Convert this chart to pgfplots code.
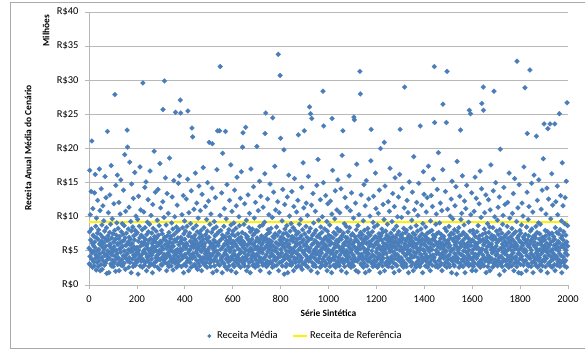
\documentclass[border=0pt]{standalone}
\usepackage{pgfplots}
\pgfplotsset{compat=1.18}
\usepackage{fontspec}
\setmainfont{Carlito}
\definecolor{xlblue}{RGB}{74,126,187}
\definecolor{gridgray}{RGB}{184,184,184}
\definecolor{framegray}{RGB}{170,170,170}
\begin{document}
\begin{tikzpicture}[x=1bp,y=1bp]
\useasboundingbox (0,0) rectangle (585,351);
\fill[white] (0,0) rectangle (585,351);
\draw[framegray, line width=0.8bp] (585,348.5) -- (10.5,348.5) -- (10.5,2.5) -- (585,2.5);
\begin{axis}[
  at={(89bp,66bp)}, anchor=south west,
  scale only axis, width=479bp, height=273bp,
  xmin=0, xmax=2000, ymin=0, ymax=40,
  clip=false,
  axis x line*=bottom, axis y line*=left,
  axis line style={draw=gridgray, line width=0.8bp},
  xtick={0,200,...,2000},
  xticklabels={0,200,400,600,800,1000,1200,1400,1600,1800,2000},
  ytick={0,5,...,40},
  yticklabels={R\$0,R\$5,R\$10,R\$15,R\$20,R\$25,R\$30,R\$35,R\$40},
  tick align=outside, major tick length=4bp,
  tick style={draw=gridgray, line width=0.8bp},
  ymajorgrids, grid style={draw=gridgray, line width=0.8bp},
  ticklabel style={font=\fontsize{10.5}{12}\selectfont},
  yticklabel style={xshift=-3bp},
  xticklabel style={yshift=-3bp},
  legend columns=2,
  legend style={draw=none, fill=none, at={(0.452,-0.187)}, anchor=center,
    font=\fontsize{10.5}{12}\selectfont, inner sep=0pt,
    /tikz/every even column/.append style={column sep=12bp}},
]
\addplot[only marks, mark=square*, mark size=1.75bp, color=xlblue,
  mark options={rotate=45, draw=xlblue, fill=xlblue, line width=0.2bp},
  legend image code/.code={\draw[mark repeat=2,mark phase=2,mark size=1.3bp] plot coordinates {(0bp,0bp)(5bp,0bp)(10bp,0bp)};}]
table[row sep=\\, header=false, x expr=\coordindex, y index=0] {
5.4\\3.1\\7.8\\16.8\\4.2\\10.3\\2.9\\6.6\\5.1\\13.7\\8.2\\3.8\\21.1\\4.7\\6.1\\2.6\\11.2\\7.3\\5.8\\3.4\\
4.9\\7.1\\2.8\\13.5\\6.3\\5.5\\16.2\\3.9\\8.6\\4.4\\2.2\\9.8\\6.9\\5.0\\3.3\\7.6\\12.4\\4.1\\6.7\\2.7\\
8.1\\5.2\\3.6\\17.0\\6.0\\4.6\\10.9\\2.1\\7.4\\5.9\\3.0\\14.1\\6.4\\4.0\\8.8\\2.3\\5.6\\7.0\\11.6\\4.8\\
3.5\\6.2\\9.4\\5.3\\2.9\\7.9\\4.3\\15.9\\6.8\\3.2\\5.7\\12.8\\4.5\\8.4\\1.7\\6.5\\3.7\\22.5\\5.0\\7.2\\
4.1\\10.6\\6.6\\1.8\\5.8\\3.9\\7.7\\13.2\\4.7\\6.0\\8.9\\3.1\\5.4\\17.5\\2.8\\6.9\\4.4\\9.7\\5.2\\3.6\\
7.5\\4.9\\2.7\\6.3\\11.9\\5.6\\3.3\\8.0\\27.9\\4.2\\6.7\\2.0\\14.6\\5.1\\7.3\\3.8\\9.1\\4.6\\16.1\\6.1\\
3.0\\5.9\\8.3\\4.0\\6.8\\12.1\\2.1\\7.1\\5.3\\3.4\\10.4\\6.2\\4.8\\15.4\\2.9\\7.8\\5.5\\3.7\\6.4\\9.0\\
5.7\\2.8\\7.4\\4.3\\13.9\\6.5\\3.2\\8.7\\5.0\\19.1\\4.1\\6.9\\2.3\\10.8\\5.8\\3.9\\7.6\\4.5\\6.0\\22.7\\
4.6\\20.2\\3.5\\6.3\\8.2\\5.2\\2.6\\11.4\\7.0\\4.0\\18.0\\5.9\\3.3\\6.7\\9.3\\4.9\\1.8\\7.9\\14.8\\5.4\\
6.1\\3.8\\5.0\\8.5\\2.7\\12.7\\4.4\\7.2\\5.6\\3.1\\6.6\\16.5\\4.2\\8.0\\2.9\\5.3\\10.1\\3.6\\7.5\\4.7\\
5.5\\7.7\\3.4\\9.6\\4.8\\1.6\\6.4\\13.0\\5.1\\3.9\\8.6\\4.3\\6.9\\17.3\\2.8\\5.7\\11.0\\4.0\\7.3\\3.5\\
6.2\\4.5\\8.1\\2.6\\5.9\\29.6\\3.7\\7.0\\4.9\\10.7\\6.3\\2.9\\5.2\\14.3\\8.4\\3.3\\6.7\\4.6\\15.1\\5.8\\
2.1\\7.4\\4.1\\6.0\\9.2\\3.6\\5.4\\12.5\\7.8\\4.2\\2.7\\6.5\\5.0\\8.9\\3.2\\16.7\\4.7\\6.8\\3.0\\10.2\\
5.3\\3.8\\7.6\\4.4\\6.1\\1.8\\11.8\\5.7\\8.3\\3.1\\6.6\\4.9\\19.6\\2.8\\7.1\\5.5\\3.4\\13.6\\6.3\\4.0\\
7.9\\5.0\\3.5\\6.9\\4.3\\9.5\\2.6\\5.8\\14.0\\3.9\\7.3\\6.0\\4.6\\8.7\\2.3\\5.1\\17.8\\3.7\\6.4\\11.3\\
4.8\\6.2\\3.0\\8.0\\5.6\\2.9\\7.5\\4.1\\12.2\\25.7\\5.3\\3.6\\6.7\\9.9\\4.5\\29.9\\7.0\\3.3\\5.9\\15.7\\
3.9\\6.5\\8.8\\4.2\\2.1\\5.4\\13.4\\7.2\\3.1\\6.0\\4.7\\10.5\\5.8\\2.7\\7.7\\4.4\\18.6\\6.3\\3.5\\5.1\\
6.8\\4.0\\7.1\\2.8\\5.5\\9.1\\3.4\\12.9\\6.1\\4.9\\8.2\\2.2\\5.7\\3.8\\15.3\\7.4\\4.3\\6.6\\10.0\\3.2\\
5.0\\25.3\\3.7\\6.4\\4.6\\8.5\\2.6\\7.8\\11.7\\5.2\\3.3\\6.9\\4.1\\14.9\\2.9\\5.9\\8.1\\4.8\\16.0\\6.2\\
3.6\\27.1\\5.3\\25.2\\7.0\\4.4\\2.7\\6.6\\10.3\\5.1\\3.9\\8.4\\4.2\\6.0\\13.1\\1.8\\7.5\\5.6\\3.0\\9.4\\
6.7\\4.5\\3.1\\7.9\\5.4\\2.8\\12.6\\6.1\\4.0\\8.6\\3.5\\5.8\\15.5\\25.5\\4.7\\7.2\\2.1\\10.6\\5.0\\3.8\\
7.6\\5.2\\3.3\\6.4\\9.0\\4.3\\2.6\\13.8\\5.7\\7.0\\23.0\\3.9\\6.2\\21.7\\4.6\\8.3\\2.9\\5.5\\11.1\\6.8\\
4.1\\3.0\\7.3\\5.9\\16.4\\2.7\\6.5\\4.8\\8.7\\3.6\\12.0\\5.3\\7.8\\2.3\\6.0\\4.4\\9.8\\3.2\\5.6\\14.5\\
6.9\\4.2\\2.8\\7.5\\5.1\\10.9\\3.7\\6.3\\8.0\\4.9\\2.1\\5.8\\13.3\\7.1\\3.4\\6.6\\4.0\\17.2\\5.4\\3.1\\
8.4\\5.7\\3.9\\6.1\\2.9\\4.6\\11.5\\7.4\\5.0\\3.3\\6.8\\9.6\\4.3\\2.6\\7.9\\15.0\\5.2\\3.8\\6.4\\12.3\\
4.7\\7.0\\20.9\\5.5\\3.2\\8.9\\4.1\\6.2\\2.7\\10.4\\5.9\\3.6\\7.7\\4.4\\14.2\\20.7\\6.0\\1.8\\5.3\\8.2\\
3.5\\6.6\\4.8\\9.3\\2.8\\5.6\\7.2\\3.9\\12.8\\6.3\\4.2\\8.5\\5.0\\2.1\\16.9\\7.5\\3.4\\22.6\\6.1\\4.6\\
5.8\\3.0\\7.8\\4.5\\6.4\\22.6\\2.9\\10.2\\32.0\\5.2\\8.0\\3.7\\6.7\\4.0\\13.5\\5.4\\1.8\\7.3\\19.3\\3.3\\
6.9\\4.3\\5.7\\8.6\\3.1\\11.2\\6.0\\4.7\\2.7\\7.1\\22.5\\5.1\\3.8\\9.7\\6.5\\4.4\\14.7\\2.3\\5.9\\7.6\\
4.0\\6.3\\3.4\\5.5\\8.1\\2.8\\7.0\\12.4\\4.9\\6.7\\3.6\\5.3\\17.6\\8.8\\2.1\\6.1\\4.2\\10.8\\7.4\\3.9\\
5.6\\7.9\\3.0\\6.4\\4.6\\9.1\\2.7\\5.0\\13.9\\7.2\\3.5\\6.0\\4.3\\8.3\\1.8\\11.6\\5.7\\3.8\\15.8\\6.6\\
4.1\\3.2\\7.5\\5.3\\2.9\\6.8\\10.0\\4.5\\8.7\\3.7\\6.2\\5.1\\12.7\\2.6\\7.0\\4.8\\16.6\\5.9\\3.4\\6.5\\
7.7\\20.2\\4.0\\22.3\\5.5\\3.1\\6.3\\8.9\\4.7\\2.8\\11.9\\6.0\\3.6\\7.4\\23.1\\5.2\\4.2\\9.5\\2.1\\6.9\\
3.8\\5.8\\7.1\\4.4\\13.2\\2.7\\6.6\\5.0\\8.4\\3.3\\10.5\\6.2\\4.9\\1.8\\7.8\\5.4\\17.0\\3.9\\6.1\\4.3\\
6.7\\3.5\\8.2\\5.1\\2.9\\7.3\\4.6\\14.4\\6.0\\3.0\\9.8\\5.7\\4.1\\7.6\\2.6\\12.1\\6.4\\3.7\\5.3\\8.0\\
4.5\\20.3\\6.9\\3.2\\5.6\\7.9\\2.8\\10.9\\4.2\\6.3\\5.0\\3.6\\15.2\\8.6\\4.8\\2.1\\6.7\\13.0\\5.4\\3.9\\
7.2\\5.9\\3.3\\6.1\\4.7\\8.8\\2.9\\11.4\\5.2\\7.0\\3.8\\6.5\\4.0\\9.2\\16.3\\22.2\\5.5\\3.1\\25.2\\6.8\\
4.4\\2.7\\7.4\\5.8\\3.5\\6.2\\12.6\\4.9\\8.1\\3.0\\5.3\\10.3\\6.6\\1.8\\7.7\\4.1\\14.8\\5.6\\3.4\\6.0\\
8.3\\4.6\\6.4\\3.2\\5.1\\9.9\\2.6\\24.5\\7.1\\4.3\\5.7\\13.6\\3.7\\6.9\\2.8\\5.0\\17.4\\7.5\\4.0\\11.0\\
3.6\\6.2\\5.4\\8.5\\2.9\\4.8\\7.3\\3.9\\12.2\\6.0\\33.8\\4.5\\2.1\\5.9\\10.6\\7.8\\3.3\\6.6\\30.7\\4.2\\
21.5\\5.2\\7.0\\3.4\\6.3\\4.7\\9.4\\2.8\\5.8\\14.0\\3.6\\7.5\\4.1\\6.8\\19.8\\1.6\\5.5\\11.8\\8.2\\3.9\\
6.1\\4.4\\2.7\\7.6\\5.0\\3.1\\8.7\\6.5\\12.9\\4.3\\1.8\\5.7\\7.2\\3.8\\16.1\\6.0\\4.9\\10.1\\3.0\\5.4\\
7.9\\3.5\\6.6\\4.2\\9.0\\2.9\\5.3\\13.7\\7.1\\4.6\\3.2\\6.4\\8.4\\5.1\\2.1\\11.5\\6.9\\4.0\\15.6\\3.7\\
5.6\\8.0\\3.3\\6.2\\4.8\\2.6\\7.4\\10.7\\5.9\\3.9\\6.7\\4.5\\12.4\\2.8\\22.0\\7.7\\5.2\\3.4\\8.9\\6.1\\
4.3\\6.9\\2.7\\5.5\\9.6\\3.6\\7.2\\4.0\\14.3\\6.3\\2.3\\5.0\\8.1\\3.1\\17.9\\6.6\\4.7\\11.3\\5.8\\22.6\\
3.2\\7.5\\5.1\\4.4\\6.0\\2.9\\8.6\\12.0\\3.7\\5.7\\7.0\\4.1\\10.2\\6.4\\2.6\\5.3\\15.9\\3.5\\7.8\\4.9\\
6.7\\26.1\\3.8\\5.4\\8.3\\25.1\\4.2\\2.1\\6.8\\11.7\\24.4\\5.9\\3.3\\7.3\\4.6\\13.4\\2.8\\6.1\\9.1\\5.0\\
4.0\\7.6\\3.0\\6.5\\5.2\\10.8\\2.7\\8.0\\4.5\\6.3\\3.6\\14.6\\5.6\\7.1\\1.8\\4.8\\18.4\\6.0\\3.4\\9.5\\
5.8\\3.9\\7.4\\4.3\\6.9\\2.6\\12.5\\5.1\\8.5\\3.2\\6.2\\4.7\\7.7\\2.9\\10.0\\5.5\\3.7\\28.4\\6.6\\15.0\\
23.3\\4.1\\6.0\\3.5\\8.2\\5.3\\2.8\\7.0\\13.1\\4.4\\6.8\\3.1\\5.7\\9.3\\2.1\\7.9\\4.9\\11.9\\6.4\\3.8\\
5.2\\7.3\\4.0\\6.6\\3.3\\8.8\\2.7\\5.9\\12.3\\4.6\\7.1\\3.6\\6.2\\1.8\\10.4\\24.4\\5.0\\16.8\\3.9\\6.9\\
4.5\\2.9\\7.7\\5.4\\3.7\\6.0\\9.7\\4.2\\13.8\\5.6\\2.6\\7.4\\3.1\\6.5\\4.8\\11.0\\8.3\\3.4\\5.8\\15.4\\
6.3\\4.0\\3.0\\7.9\\5.5\\2.8\\6.8\\10.6\\4.4\\8.0\\3.5\\5.1\\14.1\\6.7\\2.1\\4.9\\7.2\\19.0\\3.8\\5.7\\
22.6\\5.3\\7.6\\3.2\\6.1\\4.7\\9.0\\2.7\\5.9\\12.8\\3.6\\7.0\\4.3\\6.4\\8.6\\1.8\\5.0\\11.4\\6.9\\3.9\\
4.6\\7.8\\3.4\\5.7\\2.9\\6.2\\16.0\\4.1\\8.4\\5.4\\3.0\\10.9\\6.6\\4.8\\2.6\\7.3\\13.5\\5.2\\3.7\\6.0\\
7.5\\3.3\\5.8\\4.4\\9.8\\2.8\\24.6\\6.3\\24.2\\4.0\\7.1\\5.5\\3.6\\12.0\\6.7\\2.1\\8.1\\4.9\\17.7\\5.1\\
3.5\\6.4\\4.7\\8.7\\1.9\\5.6\\7.2\\10.3\\3.9\\6.0\\4.2\\31.3\\5.3\\28.0\\7.7\\3.1\\13.2\\6.8\\4.5\\2.9\\
5.9\\7.4\\3.7\\6.2\\4.1\\9.4\\2.6\\5.4\\14.7\\3.2\\8.0\\6.6\\4.8\\11.6\\1.8\\7.0\\5.0\\3.8\\15.3\\6.1\\
4.3\\2.8\\6.9\\5.2\\8.3\\3.5\\7.6\\4.6\\12.6\\6.3\\2.1\\5.7\\3.9\\10.1\\7.3\\4.0\\6.0\\18.2\\22.8\\3.3\\
6.5\\5.0\\3.1\\7.8\\4.4\\2.7\\9.2\\5.6\\13.0\\6.8\\3.6\\8.5\\4.2\\5.9\\2.9\\7.1\\16.4\\3.4\\11.2\\6.2\\
4.8\\7.0\\3.7\\5.3\\8.8\\2.6\\6.4\\4.1\\10.5\\5.8\\3.0\\7.5\\13.9\\4.5\\6.9\\1.8\\5.5\\20.0\\3.8\\7.2\\
5.1\\3.4\\6.6\\8.2\\4.3\\2.8\\7.7\\5.6\\11.8\\3.9\\6.1\\4.7\\9.6\\20.9\\2.1\\5.2\\14.5\\6.8\\3.2\\7.9\\
6.0\\4.6\\2.9\\5.7\\7.3\\3.5\\8.9\\4.0\\6.5\\12.2\\2.7\\5.4\\7.0\\3.1\\10.8\\6.3\\4.9\\17.1\\5.9\\3.6\\
7.6\\5.0\\3.8\\6.7\\4.2\\9.3\\2.6\\5.5\\13.4\\7.1\\3.3\\6.2\\4.8\\8.1\\1.8\\11.5\\5.7\\3.9\\15.7\\6.4\\
4.4\\6.9\\3.0\\5.3\\8.6\\2.8\\7.4\\4.5\\10.0\\6.1\\3.7\\5.8\\12.9\\7.8\\4.1\\2.1\\6.6\\16.2\\5.1\\22.8\\
3.4\\7.2\\5.6\\4.0\\6.3\\9.9\\2.9\\5.0\\14.2\\7.5\\3.6\\6.8\\4.7\\2.6\\8.3\\5.4\\11.3\\3.2\\29.0\\6.0\\
5.9\\4.3\\7.7\\3.1\\6.5\\2.7\\8.0\\5.2\\12.4\\4.6\\6.9\\3.8\\10.6\\5.7\\1.8\\7.3\\4.9\\15.1\\6.2\\3.5\\
6.7\\3.9\\5.1\\8.4\\4.4\\2.8\\7.0\\5.8\\9.5\\3.3\\13.6\\6.4\\4.1\\7.6\\2.1\\5.5\\18.8\\4.8\\6.1\\11.0\\
4.2\\7.4\\3.0\\5.6\\6.8\\2.6\\8.7\\4.7\\12.1\\6.0\\3.4\\5.3\\7.9\\10.2\\4.0\\6.6\\2.9\\14.9\\5.0\\3.7\\
7.1\\5.4\\2.7\\23.3\\6.3\\4.5\\8.2\\3.2\\5.9\\11.7\\7.5\\4.1\\6.7\\1.8\\9.0\\5.2\\16.6\\3.6\\6.0\\13.3\\
5.0\\3.8\\7.2\\4.6\\6.5\\2.8\\8.5\\5.7\\10.7\\3.5\\6.9\\4.2\\12.8\\7.6\\2.6\\5.3\\4.0\\17.4\\6.2\\3.1\\
6.6\\4.9\\3.3\\7.8\\5.5\\2.1\\9.4\\4.3\\6.1\\13.1\\3.7\\8.0\\5.2\\2.9\\11.5\\6.7\\4.4\\7.3\\15.5\\3.9\\
5.8\\4.1\\32.0\\23.8\\7.0\\3.4\\6.4\\2.7\\8.9\\5.1\\10.4\\4.6\\7.5\\3.0\\14.0\\6.0\\4.8\\2.6\\5.6\\19.4\\
7.7\\3.6\\6.3\\4.5\\9.1\\2.8\\5.4\\12.0\\6.8\\4.0\\3.2\\7.4\\5.9\\10.9\\2.1\\6.1\\4.7\\16.9\\26.5\\5.3\\
4.3\\7.1\\3.9\\5.7\\2.9\\6.6\\8.3\\4.8\\13.7\\3.3\\6.0\\5.0\\23.8\\7.9\\2.6\\31.3\\4.2\\11.1\\6.5\\3.7\\
6.2\\5.5\\3.1\\8.6\\4.4\\7.3\\2.7\\5.8\\10.1\\6.9\\3.8\\4.9\\12.6\\7.6\\1.8\\5.2\\15.2\\3.5\\6.7\\9.7\\
4.0\\7.5\\5.3\\3.0\\6.4\\2.8\\8.1\\4.6\\11.6\\5.9\\3.6\\7.0\\14.4\\4.2\\6.3\\1.6\\5.6\\18.1\\3.4\\7.8\\
5.1\\3.9\\6.8\\4.7\\8.4\\2.6\\7.2\\5.4\\13.0\\3.2\\6.1\\22.7\\4.5\\9.6\\2.9\\5.7\\10.5\\7.4\\3.7\\16.0\\
6.5\\4.3\\2.7\\7.7\\5.0\\3.5\\8.8\\6.0\\12.3\\4.1\\1.8\\6.9\\5.5\\11.2\\3.1\\7.3\\4.8\\14.6\\5.9\\3.8\\
7.0\\5.6\\3.3\\6.2\\4.4\\9.2\\2.8\\5.1\\25.6\\6.7\\3.9\\7.9\\4.0\\25.1\\10.3\\5.8\\3.0\\6.4\\13.5\\2.1\\
4.7\\6.6\\3.6\\8.0\\5.2\\2.7\\7.5\\4.1\\10.8\\6.3\\3.2\\5.7\\15.8\\7.1\\4.5\\2.1\\6.0\\12.7\\3.9\\5.4\\
7.8\\4.2\\6.1\\3.0\\5.5\\8.7\\2.9\\6.8\\4.6\\11.9\\3.4\\7.2\\5.0\\16.7\\2.6\\6.4\\4.9\\9.9\\3.7\\14.1\\
26.6\\5.3\\3.1\\7.4\\4.4\\6.7\\29.0\\25.6\\5.9\\2.8\\8.2\\4.0\\10.6\\6.2\\3.5\\7.6\\5.1\\13.2\\1.8\\6.5\\
4.8\\7.0\\3.8\\5.6\\9.0\\2.7\\6.3\\4.3\\12.5\\7.7\\3.3\\5.8\\4.1\\8.5\\2.1\\11.0\\6.9\\3.6\\17.6\\5.2\\
6.0\\3.9\\7.3\\4.7\\5.5\\2.6\\8.4\\6.6\\13.8\\3.2\\4.9\\28.4\\7.1\\2.9\\10.0\\5.4\\3.7\\6.8\\15.0\\4.4\\
5.7\\7.9\\3.4\\6.2\\4.5\\9.5\\2.8\\5.0\\11.4\\7.4\\3.6\\6.5\\4.0\\12.9\\1.5\\8.1\\5.3\\19.9\\3.1\\6.9\\
4.2\\6.7\\5.4\\3.3\\7.6\\2.7\\6.0\\8.9\\4.8\\10.2\\3.8\\5.6\\14.3\\7.0\\2.1\\4.6\\6.4\\11.8\\5.1\\3.5\\
7.3\\4.9\\2.9\\6.1\\5.8\\3.7\\8.6\\4.3\\12.1\\6.8\\3.0\\5.2\\7.7\\2.6\\16.4\\6.3\\4.1\\9.8\\5.5\\3.4\\
6.4\\3.6\\7.1\\4.4\\5.9\\2.8\\8.3\\5.0\\10.5\\3.9\\6.6\\4.7\\13.4\\7.5\\2.1\\5.6\\3.2\\15.6\\6.2\\4.0\\
5.3\\7.8\\4.1\\6.0\\3.5\\9.3\\2.7\\32.8\\5.7\\6.9\\3.3\\11.3\\4.6\\7.2\\1.8\\5.1\\14.7\\6.5\\3.8\\8.0\\
4.5\\6.3\\3.0\\7.6\\5.4\\1.7\\8.8\\4.2\\12.0\\6.1\\3.7\\5.8\\10.1\\7.0\\2.9\\4.9\\17.3\\6.7\\3.4\\5.2\\
28.9\\4.8\\7.4\\3.6\\6.2\\5.0\\2.1\\8.5\\4.3\\13.6\\22.2\\6.6\\3.1\\5.7\\9.6\\2.8\\7.2\\11.5\\4.0\\6.0\\
5.5\\31.5\\3.9\\7.9\\4.6\\6.4\\2.7\\5.1\\14.9\\8.2\\3.3\\6.8\\4.4\\10.7\\1.8\\7.1\\5.9\\3.5\\16.1\\6.3\\
4.1\\7.3\\5.6\\3.2\\6.9\\2.9\\8.6\\4.7\\21.8\\5.3\\3.8\\7.7\\12.4\\6.0\\2.6\\5.0\\4.3\\9.1\\15.4\\3.6\\
6.7\\4.0\\7.5\\5.2\\3.0\\8.9\\2.1\\6.2\\11.1\\4.6\\5.8\\3.4\\13.9\\7.0\\2.8\\6.5\\4.9\\18.5\\3.7\\5.4\\
23.6\\5.7\\3.5\\6.6\\4.2\\8.0\\2.7\\7.2\\10.4\\5.1\\3.9\\6.1\\14.2\\4.8\\1.8\\7.8\\22.9\\5.5\\3.1\\12.6\\
4.4\\6.8\\3.3\\7.4\\5.9\\23.6\\2.8\\5.0\\9.7\\6.3\\4.1\\3.6\\16.3\\7.6\\2.6\\5.2\\11.7\\4.7\\6.5\\3.8\\
7.1\\4.5\\5.8\\3.0\\6.7\\23.6\\2.1\\8.4\\5.3\\12.2\\3.9\\6.0\\4.2\\7.7\\2.9\\14.5\\5.6\\10.3\\3.4\\6.4\\
5.0\\7.5\\3.7\\6.2\\25.1\\4.6\\2.7\\8.1\\5.5\\13.1\\3.2\\6.9\\4.3\\9.4\\1.8\\7.2\\17.9\\5.9\\3.5\\11.6\\
6.6\\4.1\\7.8\\3.3\\5.4\\2.8\\9.0\\6.0\\12.8\\4.7\\3.6\\7.3\\5.1\\15.2\\2.6\\6.3\\26.7\\4.4\\8.7\\5.7\\
};
\addlegendentry{\hspace{4bp}Receita Média}
\addplot[color=yellow, line width=2.5bp,
  legend image code/.code={\draw[yellow, line width=2.5bp] (0bp,0bp) -- (14bp,0bp);}] coordinates {(0,9.2) (2000,9.2)};
\addlegendentry{Receita de Referência}
\end{axis}
\node[rotate=90, font=\fontsize{9.5}{11}\selectfont\bfseries] at (28,203) {Receita Anual Média do Cenário};
\node[rotate=90, font=\fontsize{9.5}{11}\selectfont\bfseries] at (46,320.5) {Milhões};
\node[font=\fontsize{9.5}{11}\selectfont\bfseries] at (328.5,37.5) {Série Sintética};
\end{tikzpicture}
\end{document}
